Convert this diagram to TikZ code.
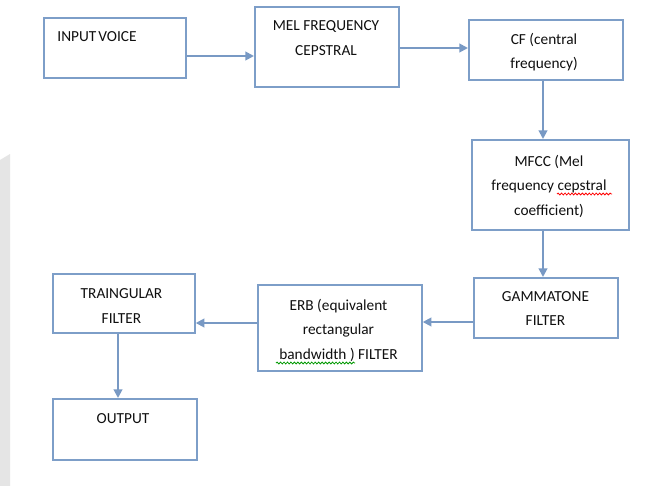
\documentclass[tikz,border=0pt]{standalone}
\usepackage{fontspec}
\setmainfont{Carlito}
\usetikzlibrary{arrows.meta,decorations.pathmorphing}
\definecolor{boxc}{RGB}{125,158,200}
\definecolor{arrc}{RGB}{120,153,196}
\definecolor{txtc}{RGB}{15,15,15}
\begin{document}
\begin{tikzpicture}[x=0.75pt,y=-0.75pt,
  boxn/.style={draw=boxc,line width=1.3pt,fill=white,inner sep=0pt,anchor=north west},
  txt/.style={text=txtc,align=center,inner sep=0pt,font=\fontsize{11.5}{18.4}\selectfont},
  arr/.style={draw=arrc,line width=1.4pt,-{Triangle[length=6.5pt,width=6.5pt]}},
  squig/.style={decorate,decoration={snake,amplitude=0.7pt,segment length=2.6pt},line width=0.6pt}]
\useasboundingbox[fill=white] (0,0) rectangle (647,486);
\fill[black!10] (0,160) -- (10,154) -- (10,486) -- (0,486) -- cycle;
% boxes
\node[boxn,minimum width=142*0.75pt,minimum height=60*0.75pt] (in) at (43,17) {};
\node[boxn,minimum width=144*0.75pt,minimum height=80*0.75pt] (mel) at (254,6) {};
\node[boxn,minimum width=154*0.75pt,minimum height=60*0.75pt] (cf) at (468,19) {};
\node[boxn,minimum width=157*0.75pt,minimum height=90*0.75pt] (mfcc) at (471,139) {};
\node[boxn,minimum width=144*0.75pt,minimum height=60*0.75pt] (gam) at (473,277) {};
\node[boxn,minimum width=164*0.75pt,minimum height=86*0.75pt] (erb) at (257,284) {};
\node[boxn,minimum width=142*0.75pt,minimum height=59*0.75pt] (tri) at (52,273) {};
\node[boxn,minimum width=144*0.75pt,minimum height=61*0.75pt] (out) at (52,398) {};
% texts
\node[txt] (tin) at (97,37) {INPUT\kern-0.1em\ VOICE};
\node[txt] (tmel) at (326,38) {MEL FREQUENCY\\CEPSTRAL};
\node[txt] (tcf) at (544,52) {CF (central\\frequency)};
\node[txt] (tmfcc) at (549,186) {MFCC (Mel\\frequency cepstral\\coefficient)};
\node[txt] (tgam) at (545.5,308.5) {GAMMATONE\\FILTER};
\node[txt] (terb) at (338.5,330) {ERB (equivalent\\rectangular\\bandwidth ) FILTER};
\node[txt] (ttri) at (121.5,306) {TRAINGULAR\\FILTER};
\node[txt] (tout) at (123,418.5) {OUTPUT};
% spell-check marks
\draw[red,squig] (557,194) -- (612,194);
\draw[green!60!black,squig] (276,363) -- (355,363);
% connectors
\draw[arr] (in.east |- 0,56) -- (mel.west |- 0,56);
\draw[arr] (mel.east |- 0,48) -- (cf.west |- 0,48);
\draw[arr] (cf.south -| 543,0) -- (mfcc.north -| 543,0);
\draw[arr] (mfcc.south -| 543,0) -- (gam.north -| 543,0);
\draw[arr] (gam.west |- 0,322) -- (erb.east |- 0,322);
\draw[arr] (erb.west |- 0,323) -- (tri.east |- 0,323);
\draw[arr] (tri.south -| 118,0) -- (out.north -| 118,0);
\end{tikzpicture}
\end{document}
